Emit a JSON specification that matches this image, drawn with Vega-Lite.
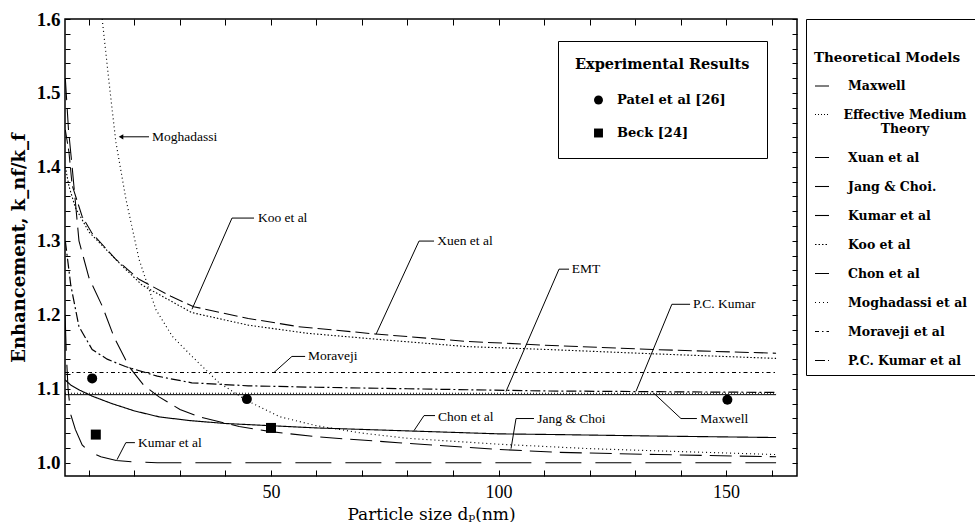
{
  "$schema": "https://vega.github.io/schema/vega-lite/v6.json",
  "width": 732,
  "height": 457,
  "padding": {"left": 10, "top": 10, "right": 0, "bottom": 0},
  "background": "white",
  "config": {
    "font": "DejaVu Serif",
    "view": {"stroke": "black", "strokeWidth": 1.5},
    "axis": {"grid": false, "domain": false, "tickColor": "black", "labelColor": "black", "titleColor": "black", "tickWidth": 1}
  },
  "resolve": {"axis": {"x": "independent", "y": "independent"}},
  "datasets": {
    "curves": [
      {"model": "Maxwell", "x": 4.73, "y": 1.092}, {"model": "Maxwell", "x": 161, "y": 1.092},
      {"model": "Effective Medium Theory", "x": 4.73, "y": 1.094}, {"model": "Effective Medium Theory", "x": 161, "y": 1.094},
      {"model": "Moraveji et al", "x": 4.73, "y": 1.122}, {"model": "Moraveji et al", "x": 161, "y": 1.122},
      {"model": "Xuan et al", "x": 4.8, "y": 1.45}, {"model": "Xuan et al", "x": 5.6, "y": 1.42}, {"model": "Xuan et al", "x": 6.3, "y": 1.375}, {"model": "Xuan et al", "x": 8.5, "y": 1.333}, {"model": "Xuan et al", "x": 10.7, "y": 1.31}, {"model": "Xuan et al", "x": 15.9, "y": 1.275}, {"model": "Xuan et al", "x": 21, "y": 1.248}, {"model": "Xuan et al", "x": 28, "y": 1.225}, {"model": "Xuan et al", "x": 33, "y": 1.211}, {"model": "Xuan et al", "x": 45, "y": 1.195}, {"model": "Xuan et al", "x": 56, "y": 1.184}, {"model": "Xuan et al", "x": 73, "y": 1.174}, {"model": "Xuan et al", "x": 93, "y": 1.164}, {"model": "Xuan et al", "x": 110, "y": 1.159}, {"model": "Xuan et al", "x": 134, "y": 1.153}, {"model": "Xuan et al", "x": 161, "y": 1.148},
      {"model": "Koo et al", "x": 4.8, "y": 1.4}, {"model": "Koo et al", "x": 5.6, "y": 1.374}, {"model": "Koo et al", "x": 7, "y": 1.345}, {"model": "Koo et al", "x": 10, "y": 1.312}, {"model": "Koo et al", "x": 17.3, "y": 1.266}, {"model": "Koo et al", "x": 21.7, "y": 1.24}, {"model": "Koo et al", "x": 32.6, "y": 1.203}, {"model": "Koo et al", "x": 45, "y": 1.186}, {"model": "Koo et al", "x": 58, "y": 1.175}, {"model": "Koo et al", "x": 75, "y": 1.166}, {"model": "Koo et al", "x": 93, "y": 1.157}, {"model": "Koo et al", "x": 111, "y": 1.153}, {"model": "Koo et al", "x": 135, "y": 1.147}, {"model": "Koo et al", "x": 161, "y": 1.141},
      {"model": "Jang & Choi.", "x": 4.8, "y": 1.52}, {"model": "Jang & Choi.", "x": 5.5, "y": 1.45}, {"model": "Jang & Choi.", "x": 6.3, "y": 1.4}, {"model": "Jang & Choi.", "x": 7.8, "y": 1.3}, {"model": "Jang & Choi.", "x": 10, "y": 1.25}, {"model": "Jang & Choi.", "x": 12.9, "y": 1.212}, {"model": "Jang & Choi.", "x": 15.5, "y": 1.17}, {"model": "Jang & Choi.", "x": 18.8, "y": 1.13}, {"model": "Jang & Choi.", "x": 22, "y": 1.105}, {"model": "Jang & Choi.", "x": 25.4, "y": 1.089}, {"model": "Jang & Choi.", "x": 30, "y": 1.072}, {"model": "Jang & Choi.", "x": 34.2, "y": 1.062}, {"model": "Jang & Choi.", "x": 43, "y": 1.049}, {"model": "Jang & Choi.", "x": 50, "y": 1.042}, {"model": "Jang & Choi.", "x": 60, "y": 1.035}, {"model": "Jang & Choi.", "x": 78, "y": 1.027}, {"model": "Jang & Choi.", "x": 100, "y": 1.018}, {"model": "Jang & Choi.", "x": 113, "y": 1.014}, {"model": "Jang & Choi.", "x": 135, "y": 1.011}, {"model": "Jang & Choi.", "x": 161, "y": 1.008},
      {"model": "Chon et al", "x": 4.75, "y": 1.112}, {"model": "Chon et al", "x": 6, "y": 1.105}, {"model": "Chon et al", "x": 8, "y": 1.098}, {"model": "Chon et al", "x": 10.7, "y": 1.09}, {"model": "Chon et al", "x": 15, "y": 1.08}, {"model": "Chon et al", "x": 20, "y": 1.07}, {"model": "Chon et al", "x": 25.4, "y": 1.062}, {"model": "Chon et al", "x": 32, "y": 1.057}, {"model": "Chon et al", "x": 40, "y": 1.053}, {"model": "Chon et al", "x": 50, "y": 1.05}, {"model": "Chon et al", "x": 60, "y": 1.047}, {"model": "Chon et al", "x": 80, "y": 1.043}, {"model": "Chon et al", "x": 100, "y": 1.039}, {"model": "Chon et al", "x": 113, "y": 1.038}, {"model": "Chon et al", "x": 135, "y": 1.036}, {"model": "Chon et al", "x": 161, "y": 1.034},
      {"model": "Moghadassi et al", "x": 12.9, "y": 1.6}, {"model": "Moghadassi et al", "x": 14.4, "y": 1.515}, {"model": "Moghadassi et al", "x": 15.9, "y": 1.434}, {"model": "Moghadassi et al", "x": 18.1, "y": 1.357}, {"model": "Moghadassi et al", "x": 21, "y": 1.275}, {"model": "Moghadassi et al", "x": 24.7, "y": 1.207}, {"model": "Moghadassi et al", "x": 28.3, "y": 1.171}, {"model": "Moghadassi et al", "x": 32.6, "y": 1.144}, {"model": "Moghadassi et al", "x": 38.6, "y": 1.108}, {"model": "Moghadassi et al", "x": 44.7, "y": 1.084}, {"model": "Moghadassi et al", "x": 52, "y": 1.062}, {"model": "Moghadassi et al", "x": 60, "y": 1.05}, {"model": "Moghadassi et al", "x": 70, "y": 1.04}, {"model": "Moghadassi et al", "x": 80, "y": 1.033}, {"model": "Moghadassi et al", "x": 100, "y": 1.025}, {"model": "Moghadassi et al", "x": 120, "y": 1.019}, {"model": "Moghadassi et al", "x": 140, "y": 1.015}, {"model": "Moghadassi et al", "x": 161, "y": 1.011},
      {"model": "P.C. Kumar et al", "x": 4.8, "y": 1.3}, {"model": "P.C. Kumar et al", "x": 6, "y": 1.24}, {"model": "P.C. Kumar et al", "x": 7.8, "y": 1.184}, {"model": "P.C. Kumar et al", "x": 10.7, "y": 1.153}, {"model": "P.C. Kumar et al", "x": 14, "y": 1.14}, {"model": "P.C. Kumar et al", "x": 18, "y": 1.13}, {"model": "P.C. Kumar et al", "x": 25, "y": 1.117}, {"model": "P.C. Kumar et al", "x": 32.6, "y": 1.108}, {"model": "P.C. Kumar et al", "x": 45, "y": 1.104}, {"model": "P.C. Kumar et al", "x": 60, "y": 1.102}, {"model": "P.C. Kumar et al", "x": 80, "y": 1.1}, {"model": "P.C. Kumar et al", "x": 110, "y": 1.097}, {"model": "P.C. Kumar et al", "x": 135, "y": 1.096}, {"model": "P.C. Kumar et al", "x": 161, "y": 1.095},
      {"model": "Kumar et al", "x": 4.75, "y": 1.2}, {"model": "Kumar et al", "x": 5.0, "y": 1.15}, {"model": "Kumar et al", "x": 5.4, "y": 1.1}, {"model": "Kumar et al", "x": 6, "y": 1.065}, {"model": "Kumar et al", "x": 7, "y": 1.045}, {"model": "Kumar et al", "x": 8.5, "y": 1.024}, {"model": "Kumar et al", "x": 10, "y": 1.015}, {"model": "Kumar et al", "x": 12.6, "y": 1.008}, {"model": "Kumar et al", "x": 16, "y": 1.003}, {"model": "Kumar et al", "x": 20, "y": 1.001}, {"model": "Kumar et al", "x": 25, "y": 1.0}, {"model": "Kumar et al", "x": 161, "y": 1.0}
    ],
    "experiments": [
      {"source": "Patel et al [26]", "x": 10.7, "y": 1.114},
      {"source": "Patel et al [26]", "x": 44.7, "y": 1.086},
      {"source": "Patel et al [26]", "x": 150.3, "y": 1.085},
      {"source": "Beck [24]", "x": 11.5, "y": 1.038},
      {"source": "Beck [24]", "x": 50, "y": 1.047}
    ],
    "labels": [
      {"label": "Moghadassi", "x": 23.63, "y": 1.4407},
      {"label": "Koo et al", "x": 46.9, "y": 1.3308},
      {"label": "Xuen et al", "x": 86.3, "y": 1.2997},
      {"label": "EMT", "x": 115.9, "y": 1.2617},
      {"label": "P.C. Kumar", "x": 142.5, "y": 1.2142},
      {"label": "Moraveji", "x": 57.9, "y": 1.1437},
      {"label": "Maxwell", "x": 144.1, "y": 1.0597},
      {"label": "Chon et al", "x": 86.5, "y": 1.0624},
      {"label": "Jang  & Choi", "x": 108.3, "y": 1.0597},
      {"label": "Kumar et al", "x": 20.55, "y": 1.0271}
    ],
    "leaders": [
      {"label": "Moghadassi", "seq": 1, "x": 23.19, "y": 1.4407}, {"label": "Moghadassi", "seq": 2, "x": 17.04, "y": 1.4407},
      {"label": "Koo", "seq": 1, "x": 46.27, "y": 1.3308}, {"label": "Koo", "seq": 2, "x": 41.43, "y": 1.3308}, {"label": "Koo", "seq": 3, "x": 32.64, "y": 1.2075},
      {"label": "Xuan", "seq": 1, "x": 85.83, "y": 1.2997}, {"label": "Xuan", "seq": 2, "x": 82.53, "y": 1.2997}, {"label": "Xuan", "seq": 3, "x": 73.08, "y": 1.1736},
      {"label": "EMT", "seq": 1, "x": 115.5, "y": 1.2617}, {"label": "EMT", "seq": 2, "x": 113.3, "y": 1.2617}, {"label": "EMT", "seq": 3, "x": 101.65, "y": 1.0963},
      {"label": "PCK", "seq": 1, "x": 142.1, "y": 1.2142}, {"label": "PCK", "seq": 2, "x": 138.1, "y": 1.2142}, {"label": "PCK", "seq": 3, "x": 130.2, "y": 1.0963},
      {"label": "Moraveji", "seq": 1, "x": 57.5, "y": 1.1437}, {"label": "Moraveji", "seq": 2, "x": 54.6, "y": 1.1437}, {"label": "Moraveji", "seq": 3, "x": 50.66, "y": 1.122},
      {"label": "Maxwell", "seq": 1, "x": 143.6, "y": 1.0597}, {"label": "Maxwell", "seq": 2, "x": 140.1, "y": 1.0597}, {"label": "Maxwell", "seq": 3, "x": 134.2, "y": 1.0936},
      {"label": "Chon", "seq": 1, "x": 86.05, "y": 1.0637}, {"label": "Chon", "seq": 2, "x": 83.63, "y": 1.0637}, {"label": "Chon", "seq": 3, "x": 81.43, "y": 1.0434},
      {"label": "Jang", "seq": 1, "x": 107.8, "y": 1.0597}, {"label": "Jang", "seq": 2, "x": 103.85, "y": 1.0597}, {"label": "Jang", "seq": 3, "x": 102.75, "y": 1.019},
      {"label": "Kumar", "seq": 1, "x": 20.1, "y": 1.0271}, {"label": "Kumar", "seq": 2, "x": 18.1, "y": 1.0271}, {"label": "Kumar", "seq": 3, "x": 16.16, "y": 1.004}
    ],
    "arrowheads": [
      {"label": "Moghadassi", "x": 17.04, "y": 1.4407}
    ]
  },
  "layer": [
    {
      "data": {"name": "curves"},
      "mark": {"type": "line", "color": "black", "clip": true},
      "encoding": {
        "x": {"field": "x", "type": "quantitative",
          "scale": {"domain": [4.73, 165.6], "nice": false, "zero": false},
          "axis": {"orient": "bottom", "values": [10, 20, 30, 40, 50, 60, 70, 80, 90, 100, 110, 120, 130, 140, 150, 160],
            "labelExpr": "datum.value % 50 == 0 ? datum.label : ''", "tickSize": -6, "labelPadding": 13,
            "labelFontSize": 18, "labelFont": "Liberation Serif",
            "title": "Particle size  dₚ(nm)", "titleFont": "DejaVu Serif", "titleFontSize": 17, "titleFontWeight": "normal", "titlePadding": 5}},
        "y": {"field": "y", "type": "quantitative",
          "scale": {"domain": [0.982, 1.6], "nice": false, "zero": false},
          "axis": {"orient": "left", "values": [1.0, 1.02, 1.04, 1.06, 1.08, 1.1, 1.12, 1.14, 1.16, 1.18, 1.2, 1.22, 1.24, 1.26, 1.28, 1.3, 1.32, 1.34, 1.36, 1.38, 1.4, 1.42, 1.44, 1.46, 1.48, 1.5, 1.52, 1.54, 1.56, 1.58, 1.6],
            "labelExpr": "abs(datum.value * 10 - round(datum.value * 10)) < 0.001 ? format(datum.value, '.1f') : ''",
            "tickSize": -5, "labelPadding": 10, "labelFontSize": 19, "labelFont": "Liberation Serif", "labelFontWeight": "bold",
            "title": "Enhancement,  k_nf/k_f", "titleFont": "DejaVu Serif", "titleFontSize": 18, "titleFontWeight": "bold", "titlePadding": 8}},
        "strokeDash": {"field": "model", "type": "nominal",
          "scale": {"domain": ["Maxwell", "Effective Medium Theory", "Xuan et al", "Jang & Choi.", "Kumar et al", "Koo et al", "Chon et al", "Moghadassi et al", "Moraveji et al", "P.C. Kumar et al"],
            "range": [[1, 0], [1, 2], [14, 5], [22, 8], [36, 14], [1.5, 2], [1, 0], [1, 3], [4, 3, 1.5, 3], [10, 3, 2, 3]]},
          "legend": {"title": ["", "Theoretical Models"], "orient": "right", "offset": 8, "strokeColor": "black", "padding": 8,
            "titleFontSize": 13.5, "titleFont": "DejaVu Serif", "titleFontWeight": "bold", "titleLineHeight": 24, "titlePadding": 14,
            "labelFontSize": 12.5, "labelFont": "DejaVu Serif", "labelFontWeight": "bold", "labelOffset": 18, "rowPadding": 14,
            "labelExpr": "datum.label == 'Effective Medium Theory' ? ['Effective Medium', 'Theory'] : datum.label",
            "encode": {"labels": {"update": {
              "align": {"signal": "datum.value == 'Effective Medium Theory' ? 'center' : 'left'"},
              "dx": {"signal": "datum.value == 'Effective Medium Theory' ? 57 : 0"}}}},
            "symbolType": "stroke", "symbolSize": 196, "symbolStrokeWidth": 1.8, "symbolStrokeColor": "black", "fillColor": "white"}},
        "strokeWidth": {"field": "model", "type": "nominal",
          "scale": {"domain": ["Maxwell", "Effective Medium Theory", "Xuan et al", "Jang & Choi.", "Kumar et al", "Koo et al", "Chon et al", "Moghadassi et al", "Moraveji et al", "P.C. Kumar et al"],
            "range": [1, 1.2, 1.7, 1.7, 1.7, 1.8, 1.7, 1.2, 1.2, 1.5]}, "legend": null}
      }
    },
    {
      "data": {"name": "experiments"},
      "mark": {"type": "point", "filled": true, "color": "black", "opacity": 1, "size": 100},
      "encoding": {
        "x": {"field": "x", "type": "quantitative",
          "axis": {"orient": "top", "values": [10, 20, 30, 40, 50, 60, 70, 80, 90, 100, 110, 120, 130, 140, 150, 160], "labels": false, "title": null, "tickSize": -6}},
        "y": {"field": "y", "type": "quantitative",
          "axis": {"orient": "right", "values": [1.0, 1.02, 1.04, 1.06, 1.08, 1.1, 1.12, 1.14, 1.16, 1.18, 1.2, 1.22, 1.24, 1.26, 1.28, 1.3, 1.32, 1.34, 1.36, 1.38, 1.4, 1.42, 1.44, 1.46, 1.48, 1.5, 1.52, 1.54, 1.56, 1.58, 1.6], "labels": false, "title": null, "tickSize": -5}},
        "shape": {"field": "source", "type": "nominal",
          "scale": {"domain": ["Patel et al [26]", "Beck [24]"], "range": ["circle", "square"]},
          "legend": {"title": "Experimental Results", "orient": "none", "legendX": 493, "legendY": 22, "strokeColor": "black", "fillColor": "white",
            "padding": 17, "titleFontSize": 14.5, "titleFont": "DejaVu Serif", "titleFontWeight": "bold", "titlePadding": 21,
            "labelFontSize": 13, "labelFont": "DejaVu Serif", "labelFontWeight": "bold", "labelOffset": 12, "rowPadding": 18,
            "symbolSize": 80, "symbolFillColor": "black", "symbolStrokeColor": "black", "symbolOffset": 17}}
      }
    },
    {
      "data": {"name": "leaders"},
      "mark": {"type": "line", "color": "black", "strokeWidth": 1},
      "encoding": {
        "x": {"field": "x", "type": "quantitative", "axis": null},
        "y": {"field": "y", "type": "quantitative", "axis": null},
        "detail": {"field": "label"},
        "order": {"field": "seq", "type": "quantitative"}
      }
    },
    {
      "data": {"name": "arrowheads"},
      "mark": {"type": "point", "shape": "triangle-left", "filled": true, "color": "black", "opacity": 1, "size": 28},
      "encoding": {
        "x": {"field": "x", "type": "quantitative", "axis": null},
        "y": {"field": "y", "type": "quantitative", "axis": null}
      }
    },
    {
      "data": {"name": "labels"},
      "mark": {"type": "text", "align": "left", "baseline": "middle", "fontSize": 13.5, "font": "Liberation Serif", "color": "black", "dx": 1},
      "encoding": {
        "x": {"field": "x", "type": "quantitative", "axis": null},
        "y": {"field": "y", "type": "quantitative", "axis": null},
        "text": {"field": "label"}
      }
    }
  ]
}
